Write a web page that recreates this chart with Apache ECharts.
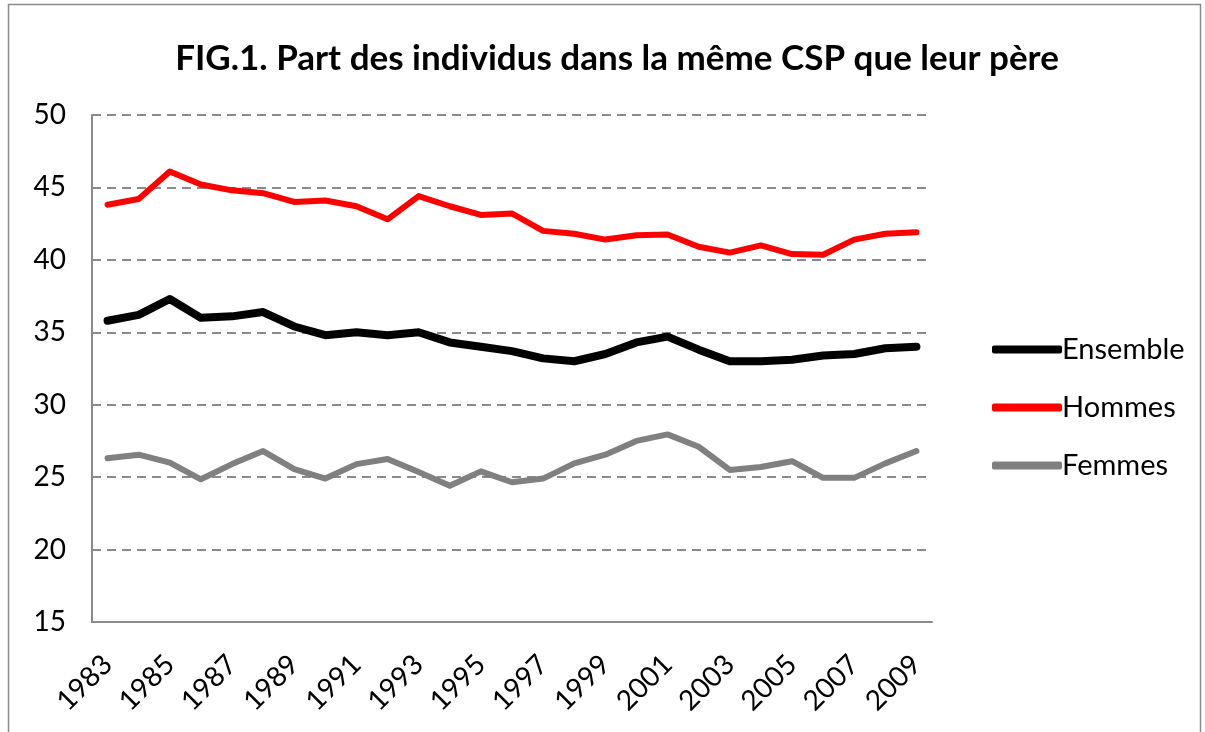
<!DOCTYPE html>
<html>
<head>
<meta charset="utf-8">
<script src="https://cdn.jsdelivr.net/npm/echarts@6/dist/echarts.min.js"></script>
<style>
  html, body { margin: 0; padding: 0; background: #fff; }
  #chart { width: 1205px; height: 732px; }
</style>
</head>
<body>
<div id="chart"></div>
<script>
const years = [
  "1983", "1984", "1985", "1986", "1987", "1988", "1989", "1990", "1991",
  "1992", "1993", "1994", "1995", "1996", "1997", "1998", "1999", "2000",
  "2001", "2002", "2003", "2004", "2005", "2006", "2007", "2008", "2009"
];
const ensemble = [
  35.8, 36.2, 37.3, 36.0, 36.1, 36.4, 35.4, 34.8, 35.0,
  34.8, 35.0, 34.3, 34.0, 33.7, 33.2, 33.0, 33.5, 34.3,
  34.7, 33.8, 33.0, 33.0, 33.1, 33.4, 33.5, 33.9, 34.0
];
const hommes = [
  43.8, 44.2, 46.1, 45.2, 44.8, 44.6, 44.0, 44.1, 43.7,
  42.8, 44.4, 43.7, 43.1, 43.2, 42.0, 41.8, 41.4, 41.7,
  41.75, 40.9, 40.5, 41.0, 40.4, 40.35, 41.4, 41.8, 41.9
];
const femmes = [
  26.3, 26.55, 26.0, 24.85, 25.9, 26.8, 25.55, 24.9, 25.9,
  26.25, 25.35, 24.4, 25.4, 24.65, 24.9, 25.95, 26.55, 27.5,
  27.95, 27.1, 25.5, 25.7, 26.1, 24.95, 24.95, 25.95, 26.8
];
const seriesNames = ["Ensemble", "Hommes", "Femmes"];

const font = "Lato, 'Liberation Sans', sans-serif";
const chart = echarts.init(document.getElementById("chart"));

chart.setOption({
  animation: false,
  backgroundColor: "#fff",
  textStyle: { fontFamily: font, color: "#000" },
  title: {
    text: "FIG.1. Part des individus dans la même CSP que leur père",
    left: 612,
    textAlign: "center",
    top: 36,
    textStyle: { fontFamily: font, fontSize: 35, fontWeight: "bold", color: "#000" }
  },
  graphic: [
    {
      type: "rect",
      shape: { x: 8.5, y: 4.5, width: 1192, height: 740 },
      style: { fill: "none", stroke: "#8a8a8a", lineWidth: 1.5 },
      silent: true
    }
  ],
  legend: {
    orient: "vertical",
    left: 987,
    top: 330,
    itemWidth: 70,
    itemHeight: 8,
    itemGap: 29,
    textStyle: { fontFamily: font, fontSize: 29, color: "#000", padding: [0, 0, 0, -5] },
    data: [
      { name: "Ensemble", icon: "roundRect", itemStyle: { color: "#000" } },
      { name: "Hommes", icon: "roundRect", itemStyle: { color: "#ff0000" } },
      { name: "Femmes", icon: "roundRect", itemStyle: { color: "#808080" } }
    ]
  },
  grid: { left: 92, right: 273, top: 115, bottom: 110 },
  xAxis: {
    type: "category",
    data: years,
    boundaryGap: true,
    axisLine: { lineStyle: { color: "#8a8a8a", width: 2 } },
    axisTick: { show: false },
    axisLabel: {
      interval: 1,
      rotate: 45,
      fontFamily: font,
      fontSize: 28,
      color: "#000",
      margin: 38
    }
  },
  yAxis: {
    type: "value",
    min: 15,
    max: 50,
    interval: 5,
    axisLine: { show: true, lineStyle: { color: "#8a8a8a", width: 2 } },
    axisTick: { show: false },
    axisLabel: { fontFamily: font, fontSize: 28, color: "#000", margin: 26 },
    splitLine: { lineStyle: { color: "#8a8a8a", type: [9, 6], width: 2 } }
  },
  series: [
    {
      name: seriesNames[0], type: "line", data: ensemble, showSymbol: false,
      lineStyle: { color: "#000", width: 8, cap: "round", join: "round" },
      itemStyle: { color: "#000" }
    },
    {
      name: seriesNames[1], type: "line", data: hommes, showSymbol: false,
      lineStyle: { color: "#ff0000", width: 6, cap: "round", join: "round" },
      itemStyle: { color: "#ff0000" }
    },
    {
      name: seriesNames[2], type: "line", data: femmes, showSymbol: false,
      lineStyle: { color: "#808080", width: 6, cap: "round", join: "round" },
      itemStyle: { color: "#808080" }
    }
  ]
});
</script>
</body>
</html>
